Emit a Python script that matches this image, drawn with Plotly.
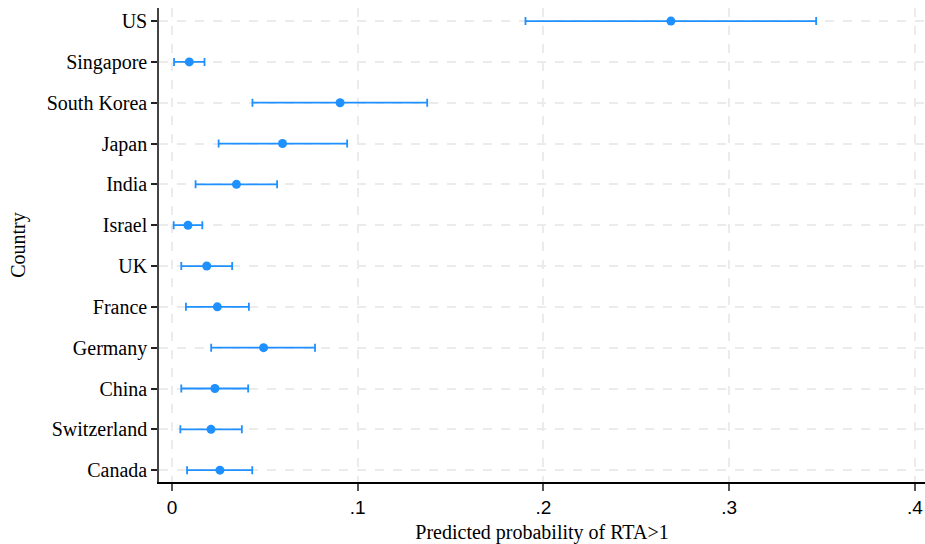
import plotly.graph_objects as go

countries = ["US", "Singapore", "South Korea", "Japan", "India", "Israel",
             "UK", "France", "Germany", "China", "Switzerland", "Canada"]
estimate = [0.2686, 0.0093, 0.0905, 0.0595, 0.0347, 0.0086,
            0.0187, 0.0244, 0.0493, 0.0231, 0.0210, 0.0258]
ci_low = [0.1903, 0.0011, 0.0433, 0.0251, 0.0127, 0.0009,
          0.0050, 0.0075, 0.0211, 0.0050, 0.0045, 0.0081]
ci_high = [0.3468, 0.0175, 0.1374, 0.0943, 0.0566, 0.0163,
           0.0324, 0.0414, 0.0770, 0.0410, 0.0376, 0.0432]

x_ticks = [0, 0.1, 0.2, 0.3, 0.4]
x_ticktext = ["0", ".1", ".2", ".3", ".4"]

color = "rgb(30,144,255)"
serif = "Liberation Serif"
sans = "Liberation Sans"

fig = go.Figure()
fig.add_trace(go.Scatter(
    x=estimate, y=countries, mode="markers",
    marker=dict(color=color, size=9),
    error_x=dict(type="data", symmetric=False,
                 array=[h - e for h, e in zip(ci_high, estimate)],
                 arrayminus=[e - l for e, l in zip(estimate, ci_low)],
                 color=color, thickness=1.8, width=4),
    showlegend=False,
))

fig.update_layout(
    width=925, height=544,
    margin=dict(l=159, r=0, t=8, b=62, pad=0, autoexpand=False),
    paper_bgcolor="white", plot_bgcolor="white",
    xaxis=dict(
        automargin=False,
        range=[-0.0070, 0.4054],
        tickvals=x_ticks, ticktext=x_ticktext,
        ticklabeloverflow="allow",
        tickfont=dict(family=sans, size=19, color="black"),
        showgrid=True, gridcolor="#ebebeb", griddash="dash", gridwidth=1.5,
        zeroline=False,
        showline=True, linecolor="black", linewidth=1.5,
        ticks="outside", ticklen=7, tickcolor="#555", tickwidth=1.5,
        title=dict(text="Predicted probability of RTA>1",
                   font=dict(family=serif, size=20, color="black"), standoff=10),
    ),
    yaxis=dict(
        automargin=False,
        type="category",
        categoryorder="array", categoryarray=countries[::-1],
        range=[-0.29, 11.32],
        tickfont=dict(family=serif, size=20, color="black"),
        showgrid=True, gridcolor="#ebebeb", griddash="dash", gridwidth=1.5,
        zeroline=False,
        showline=True, linecolor="#444", linewidth=1.5,
        ticks="outside", ticklen=6, tickcolor="#222", tickwidth=1.5,
        title=dict(text="Country",
                   font=dict(family=serif, size=20, color="black"), standoff=16),
    ),
)

fig.write_html(
    "out.html",
    config={"displayModeBar": False},
    post_script="document.body.style.margin='0';document.body.style.overflow='hidden';",
)
